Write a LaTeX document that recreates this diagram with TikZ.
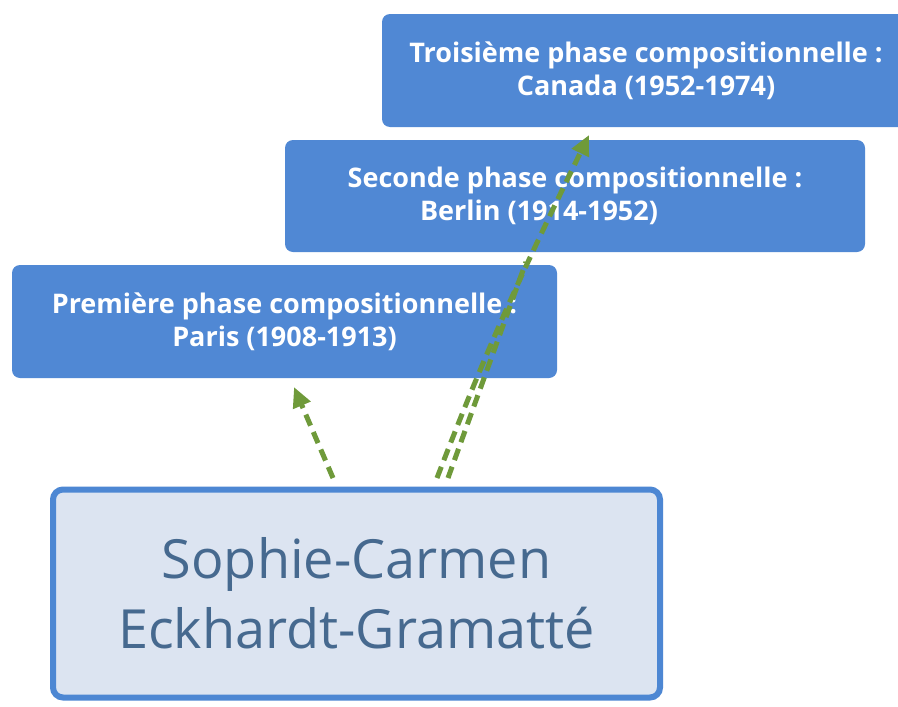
\documentclass[tikz,border=0pt]{standalone}
\usepackage{fontspec}
\setmainfont{Open Sans}
\usetikzlibrary{arrows.meta}
\definecolor{boxblue}{HTML}{5088D4}
\definecolor{mainfill}{HTML}{DCE4F1}
\definecolor{mainborder}{HTML}{4D87D3}
\definecolor{maintext}{HTML}{46698F}
\definecolor{arrowgreen}{HTML}{6F9A3A}
\tikzset{
  phasebox/.style={draw=none, fill=boxblue, rounded corners=8pt, text=white,
    font=\fontsize{27}{33}\selectfont\bfseries, align=center, inner sep=0pt},
  mainbox/.style={draw=mainborder, line width=6pt, fill=mainfill, rounded corners=10pt,
    text=maintext, font=\fontsize{54}{70}\selectfont, align=center, inner sep=0pt},
  greenarrow/.style={draw=arrowgreen, line width=5pt, dash pattern=on 12pt off 7pt,
    -{Triangle[length=20pt,width=18pt]}},
  greenline/.style={draw=arrowgreen, line width=5pt, dash pattern=on 12pt off 7pt}
}
\begin{document}
\begin{tikzpicture}[x=1pt,y=-1pt]
\clip (0,0) rectangle (898,707);
\fill[white] (0,0) rectangle (898,707);
% boxes
\node[phasebox, minimum width=528pt, minimum height=113pt] (p3) at (646,70.5)
  {Troisième phase compositionnelle :\\Canada (1952-1974)};
\node[phasebox, minimum width=580pt, minimum height=112pt] (p2) at (575,196)
  {Seconde phase compositionnelle :\\Berlin (1914-1952)\hspace*{72pt}};
\node[phasebox, minimum width=545pt, minimum height=113pt] (p1) at (284.5,321.5)
  {Première phase compositionnelle :\\Paris (1908-1913)};
\node[mainbox, minimum width=607pt, minimum height=208pt] (m) at (356.5,593.5)
  {Sophie-Carmen\\Eckhardt-Gramatté};
% connector end points
\coordinate (s1) at (333,478);
\coordinate (t1) at (294,387);
\coordinate (s2) at (437,478);
\coordinate (t2) at (589,135);
\coordinate (s3) at (448,478);
\coordinate (t3) at (526,262);
\draw[greenarrow] (s1) -- (t1);
\draw[greenline] (s3) -- (t3);
\draw[greenarrow] (s2) to[out=69,in=-116] (t2);
\end{tikzpicture}
\end{document}
